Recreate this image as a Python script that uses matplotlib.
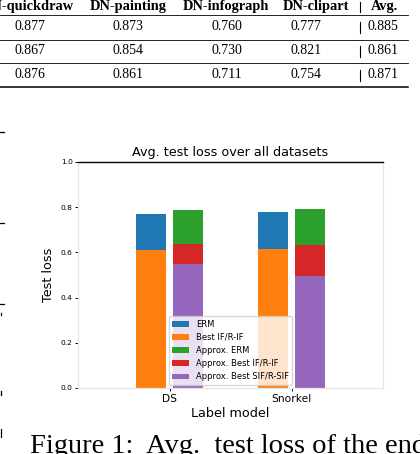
import matplotlib
matplotlib.use("Agg")
import matplotlib.pyplot as plt
from matplotlib.lines import Line2D
import numpy as np

# ---- chart data ----
label_models = ["DS", "Snorkel"]
erm = [0.770, 0.779]
best_if = [0.611, 0.615]
approx_erm = [0.788, 0.792]
approx_best_if = [0.637, 0.631]
approx_best_sif = [0.549, 0.496]

# ---- table data (page fragment above the figure) ----
table_columns = ["DN-quickdraw", "DN-painting", "DN-infograph", "DN-clipart", "Avg."]
table_rows = [
    ["0.877", "0.873", "0.760", "0.777", "0.885"],
    ["0.867", "0.854", "0.730", "0.821", "0.861"],
    ["0.876", "0.861", "0.711", "0.754", "0.871"],
]
caption = "Figure 1:  Avg.  test loss of the end-model"

W, H = 420, 454
fig = plt.figure(figsize=(W / 100, H / 100), dpi=100)


def fx(x):
    return x / W


def fy(y):
    return 1 - y / H


def hline(x0, x1, y, lw):
    fig.add_artist(Line2D([fx(x0), fx(x1)], [fy(y), fy(y)], color="black",
                          lw=lw, transform=fig.transFigure))


def vline(x, y0, y1, lw=0.8):
    fig.add_artist(Line2D([fx(x), fx(x)], [fy(y0), fy(y1)], color="black",
                          lw=lw, transform=fig.transFigure))


# ---- table ----
serif = ["Liberation Serif", "DejaVu Serif"]
header_x = [28, 128, 226, 316, 384]
value_x = [30, 128, 227, 306, 383]
for name, x in zip(table_columns, header_x):
    fig.text(fx(x), fy(10), name, ha="center", va="baseline", fontsize=10.4,
             fontweight="bold", family=serif)
row_base = [30, 54, 78]
for row, yb in zip(table_rows, row_base):
    for val, x in zip(row, value_x):
        fig.text(fx(x), fy(yb), val, ha="center", va="baseline", fontsize=10,
                 family=serif)
hline(0, 408, 15, 0.6)
hline(0, 408, 40, 0.6)
hline(0, 408, 63, 0.6)
hline(0, 408, 87, 1.1)
vline(360, 2, 12)
for yb in row_base:
    vline(360, yb - 8, yb + 3)

# cut-off fragments on the left page edge
for y in [132, 223, 304]:
    hline(0, 4, y, 0.9)
vline(1, 313, 315, 0.9)
vline(1, 391, 395, 0.9)
vline(1, 429, 437, 0.9)

# caption
fig.text(fx(30), fy(453), caption, ha="left", va="baseline", fontsize=20.5,
         family=serif)

# ---- chart ----
ax = fig.add_axes([fx(78), fy(388), fx(383) - fx(78), fy(162) - fy(388)])
x = np.arange(len(label_models))
w = 0.25
off = 0.15
ax.bar(x - off, erm, w, color="#1f77b4", label="ERM")
ax.bar(x - off, best_if, w, color="#ff7f0e", label="Best IF/R-IF")
ax.bar(x + off, approx_erm, w, color="#2ca02c", label="Approx. ERM")
ax.bar(x + off, approx_best_if, w, color="#d62728", label="Approx. Best IF/R-IF")
ax.bar(x + off, approx_best_sif, w, color="#9467bd", label="Approx. Best SIF/R-SIF")

ax.set_xlim(-0.75, 1.75)
ax.set_ylim(0, 1.0)
ax.set_yticks(np.arange(0, 1.01, 0.2))
ax.set_xticks(x)
ax.set_xticklabels(label_models)
ax.tick_params(axis="y", labelsize=5.4, length=2.3, width=0.7, pad=1.5)
ax.tick_params(axis="x", labelsize=7.7, length=2.3, width=0.7, pad=2)
for s in ["left", "right", "bottom"]:
    ax.spines[s].set_color("#e6e6e6")
    ax.spines[s].set_linewidth(0.9)
ax.spines["top"].set_color("black")
ax.spines["top"].set_linewidth(1.0)

ax.set_title("Avg. test loss over all datasets", fontsize=9.2, pad=4)
ax.set_xlabel("Label model", fontsize=9.2, labelpad=2)
ax.set_ylabel("Test loss", fontsize=9.2, labelpad=4)
ax.legend(loc="lower center", fontsize=6, framealpha=0.8, borderaxespad=0.4)

fig.savefig("out.png", dpi=100)
